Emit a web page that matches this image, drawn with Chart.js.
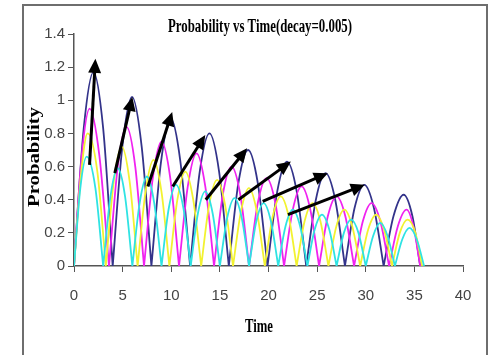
<!DOCTYPE html>
<html>
<head>
<meta charset="utf-8">
<script src="https://cdn.jsdelivr.net/npm/chart.js@4"></script>
<style>
  html, body { margin: 0; padding: 0; background: #fff; }
</style>
</head>
<body>
<canvas id="probCanvas" width="491" height="355"></canvas>
<script>
// each hump ends with a repeated time + null so the curves break at zero
const navyTime = [
    0, 1, 2, 3, 3.98, 3.98,
    3.98, 4.97, 5.97, 6.96, 7.96, 7.96,
    7.96, 8.95, 9.95, 10.94, 11.94, 11.94,
    11.94, 12.93, 13.93, 14.92, 15.92, 15.92,
    15.92, 16.9, 17.9, 18.9, 19.9, 19.9,
    19.9, 20.9, 21.9, 22.9, 23.88, 23.88,
    23.88, 24.87, 25.87, 26.86, 27.86, 27.86,
    27.86, 28.85, 29.85, 30.84, 31.84, 31.84,
    31.84, 32.85, 33.9, 34.8, 35.6
];
const navyProb = [
    0, 0.83, 1.17, 0.83, 0, null,
    0, 0.72, 1.02, 0.72, 0, null,
    0, 0.63, 0.89, 0.63, 0, null,
    0, 0.57, 0.8, 0.57, 0, null,
    0, 0.5, 0.7, 0.5, 0, null,
    0, 0.45, 0.63, 0.45, 0, null,
    0, 0.4, 0.56, 0.4, 0, null,
    0, 0.35, 0.49, 0.35, 0, null,
    0, 0.3, 0.43, 0.3, 0
];

const magentaTime = [
    0, 0.8, 1.6, 2.6, 3.6, 3.6,
    3.6, 4.5, 5.4, 6.3, 7.2, 7.2,
    7.2, 8.1, 9, 9.9, 10.8, 10.8,
    10.8, 11.7, 12.6, 13.5, 14.4, 14.4,
    14.4, 15.3, 16.2, 17.1, 18, 18,
    18, 18.9, 19.8, 20.7, 21.6, 21.6,
    21.6, 22.5, 23.4, 24.3, 25.2, 25.2,
    25.2, 26.1, 27, 27.9, 28.8, 28.8,
    28.8, 29.7, 30.6, 31.5, 32.4, 32.4,
    32.4, 33.3, 34.2, 34.9, 35.6
];
const magentaProb = [
    0, 0.67, 0.95, 0.67, 0, null,
    0, 0.6, 0.84, 0.6, 0, null,
    0, 0.53, 0.75, 0.53, 0, null,
    0, 0.48, 0.68, 0.48, 0, null,
    0, 0.43, 0.6, 0.43, 0, null,
    0, 0.38, 0.53, 0.38, 0, null,
    0, 0.34, 0.48, 0.34, 0, null,
    0, 0.3, 0.42, 0.3, 0, null,
    0, 0.27, 0.38, 0.27, 0, null,
    0, 0.24, 0.34, 0.24, 0
];

const yellowTime = [
    0, 0.75, 1.4, 2.4, 3.27, 3.27,
    3.27, 4.09, 4.91, 5.72, 6.54, 6.54,
    6.54, 7.36, 8.18, 8.99, 9.81, 9.81,
    9.81, 10.63, 11.45, 12.26, 13.08, 13.08,
    13.08, 13.9, 14.72, 15.53, 16.35, 16.35,
    16.35, 17.17, 17.99, 18.8, 19.62, 19.62,
    19.62, 20.44, 21.26, 22.07, 22.89, 22.89,
    22.89, 23.71, 24.53, 25.34, 26.16, 26.16,
    26.16, 26.98, 27.8, 28.61, 29.43, 29.43,
    29.43, 30.25, 31.07, 31.88, 32.7, 32.7,
    32.7, 33.5, 34.3, 35.1, 35.8
];
const yellowProb = [
    0, 0.57, 0.8, 0.57, 0, null,
    0, 0.51, 0.72, 0.51, 0, null,
    0, 0.45, 0.64, 0.45, 0, null,
    0, 0.4, 0.57, 0.4, 0, null,
    0, 0.37, 0.52, 0.37, 0, null,
    0, 0.33, 0.47, 0.33, 0, null,
    0, 0.3, 0.42, 0.3, 0, null,
    0, 0.27, 0.38, 0.27, 0, null,
    0, 0.24, 0.34, 0.24, 0, null,
    0, 0.22, 0.31, 0.22, 0, null,
    0, 0.2, 0.28, 0.2, 0
];

const cyanTime = [
    0, 0.65, 1.3, 2.2, 3, 3,
    3, 3.75, 4.5, 5.25, 6, 6,
    6, 6.75, 7.5, 8.25, 9, 9,
    9, 9.75, 10.5, 11.25, 12, 12,
    12, 12.75, 13.5, 14.25, 15, 15,
    15, 15.75, 16.5, 17.25, 18, 18,
    18, 18.75, 19.5, 20.25, 21, 21,
    21, 21.75, 22.5, 23.25, 24, 24,
    24, 24.75, 25.5, 26.25, 27, 27,
    27, 27.75, 28.5, 29.25, 30, 30,
    30, 30.75, 31.5, 32.25, 33, 33,
    33, 33.75, 34.5, 35.25, 36
];
const cyanProb = [
    0, 0.47, 0.66, 0.47, 0, null,
    0, 0.42, 0.59, 0.42, 0, null,
    0, 0.38, 0.54, 0.38, 0, null,
    0, 0.35, 0.49, 0.35, 0, null,
    0, 0.32, 0.45, 0.32, 0, null,
    0, 0.29, 0.41, 0.29, 0, null,
    0, 0.27, 0.38, 0.27, 0, null,
    0, 0.24, 0.34, 0.24, 0, null,
    0, 0.22, 0.31, 0.22, 0, null,
    0, 0.2, 0.28, 0.2, 0, null,
    0, 0.18, 0.26, 0.18, 0, null,
    0, 0.16, 0.23, 0.16, 0
];

// black arrows over the peaks (time, probability)
const arrowFromT = [1.6, 4.2, 7.6, 10.15, 13.55, 16.9, 19.4, 22.0];
const arrowFromP = [0.61, 0.56, 0.48, 0.48, 0.40, 0.40, 0.39, 0.31];
const arrowToT = [2.2, 6.0, 10.1, 13.5, 17.8, 22.3, 26.1, 29.9];
const arrowToP = [1.25, 1.02, 0.93, 0.79, 0.71, 0.63, 0.56, 0.49];

const xTickLabels = ["0", "5", "10", "15", "20", "25", "30", "35", "40"];
const yTickLabels = ["0", "0.2", "0.4", "0.6", "0.8", "1", "1.2", "1.4"];

function points(time, prob) {
    return time.map((t, i) => ({ x: t, y: prob[i] }));
}

function curve(time, prob, color) {
    return {
        data: points(time, prob),
        borderColor: color,
        borderWidth: 1.8,
        pointRadius: 0,
        fill: false,
        spanGaps: false,
        cubicInterpolationMode: "monotone"
    };
}

function squeezedText(ctx, text, font, cx, cy, targetWidth, angle) {
    ctx.save();
    ctx.font = font;
    ctx.fillStyle = "#000";
    ctx.textAlign = "center";
    ctx.textBaseline = "middle";
    const w = ctx.measureText(text).width;
    ctx.translate(cx, cy);
    if (angle) ctx.rotate(angle);
    ctx.scale(targetWidth / w, 1);
    ctx.fillText(text, 0, 0);
    ctx.restore();
}

const decorPlugin = {
    id: "decor",
    beforeDraw(chart) {
        const ctx = chart.ctx;
        ctx.save();
        ctx.fillStyle = "#fff";
        ctx.fillRect(0, 0, chart.width, chart.height);
        ctx.strokeStyle = "#6e6e6e";
        ctx.lineWidth = 2;
        ctx.beginPath();
        ctx.moveTo(23, 355);
        ctx.lineTo(23, 5);
        ctx.lineTo(487, 5);
        ctx.lineTo(487, 355);
        ctx.stroke();
        ctx.restore();
    },
    afterDatasetsDraw(chart) {
        const ctx = chart.ctx;
        const xs = chart.scales.x, ys = chart.scales.y;
        ctx.save();
        ctx.strokeStyle = "#000";
        ctx.fillStyle = "#000";
        ctx.lineWidth = 3;
        for (let i = 0; i < arrowFromT.length; i++) {
            const x1 = xs.getPixelForValue(arrowFromT[i]);
            const y1 = ys.getPixelForValue(arrowFromP[i]);
            const x2 = xs.getPixelForValue(arrowToT[i]);
            const y2 = ys.getPixelForValue(arrowToP[i]);
            const a = Math.atan2(y2 - y1, x2 - x1);
            const head = 14, half = 6.5;
            const bx = x2 - head * Math.cos(a), by = y2 - head * Math.sin(a);
            ctx.beginPath();
            ctx.moveTo(x1, y1);
            ctx.lineTo(bx + 2 * Math.cos(a), by + 2 * Math.sin(a));
            ctx.stroke();
            ctx.beginPath();
            ctx.moveTo(x2, y2);
            ctx.lineTo(bx + half * Math.sin(a), by - half * Math.cos(a));
            ctx.lineTo(bx - half * Math.sin(a), by + half * Math.cos(a));
            ctx.closePath();
            ctx.fill();
        }
        ctx.restore();
    },
    afterDraw(chart) {
        const ctx = chart.ctx;
        squeezedText(ctx, "Probability vs Time(decay=0.005)", "bold 18px 'Liberation Serif'", 260, 27, 184, 0);
        squeezedText(ctx, "Time", "bold 18px 'Liberation Serif'", 259, 327, 28, 0);
        squeezedText(ctx, "Probability", "bold 16px 'Liberation Serif'", 35, 157, 100, -Math.PI / 2);
    }
};

const probCanvas = document.getElementById("probCanvas");

const probChart = new Chart(probCanvas, {
    type: "line",
    data: {
        datasets: [
            curve(cyanTime, cyanProb, "#2fe3e3"),
            curve(yellowTime, yellowProb, "#f2f230"),
            curve(magentaTime, magentaProb, "#f022f0"),
            curve(navyTime, navyProb, "#33338a")
        ]
    },
    options: {
        responsive: false,
        animation: false,
        layout: { padding: { left: 0, right: 28, top: 34, bottom: 0 } },
        plugins: {
            legend: { display: false },
            tooltip: { enabled: false }
        },
        scales: {
            x: {
                type: "linear",
                min: 0,
                max: 40,
                afterFit: (s) => { s.height = 89; },
                border: { display: true, color: "#555", width: 1.5 },
                grid: { drawOnChartArea: false, drawTicks: true, tickLength: 6, color: "#555" },
                ticks: {
                    stepSize: 5,
                    padding: 15,
                    color: "#444",
                    font: { family: "'Liberation Sans', Arial", size: 15 },
                    maxRotation: 0,
                    callback: (v, i) => xTickLabels[i]
                }
            },
            y: {
                min: 0,
                max: 1.4,
                afterFit: (s) => { s.width = 74; },
                border: { display: true, color: "#555", width: 1.5 },
                grid: { drawOnChartArea: false, drawTicks: true, tickLength: 6, color: "#555" },
                ticks: {
                    stepSize: 0.2,
                    padding: 3,
                    color: "#444",
                    font: { family: "'Liberation Sans', Arial", size: 15 },
                    callback: (v, i) => yTickLabels[i]
                }
            }
        }
    },
    plugins: [decorPlugin]
});
</script>
</body>
</html>
